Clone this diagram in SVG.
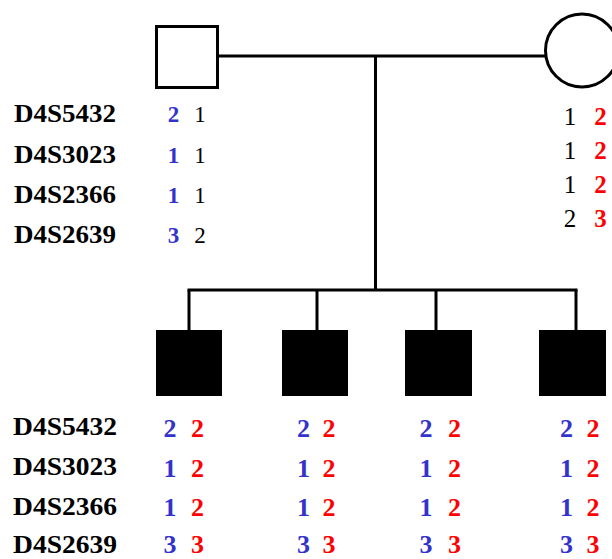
<svg xmlns="http://www.w3.org/2000/svg" width="612" height="559" viewBox="0 0 612 559">
<style>
.ln{stroke:#000;stroke-width:3;fill:none}
.lbl{font-family:"Liberation Serif","Times New Roman",serif;font-weight:bold;font-size:26px;fill:#000}
.a{font-family:"Liberation Serif","Times New Roman",serif;text-anchor:middle}
.b{fill:#3333cc;font-weight:bold}
.r{fill:#ff0000;font-weight:bold}
.k{fill:#000;font-weight:normal}
.f{font-size:23px}
.m{font-size:25px}
.c{font-size:26px}
</style>
<rect width="612" height="559" fill="#fff"/>
<g id="connectors" class="ln">
<line x1="219" y1="56" x2="545" y2="56"/>
<line x1="375.5" y1="56" x2="375.5" y2="290"/>
<line x1="187.5" y1="290" x2="577.5" y2="290"/>
<line x1="189" y1="290" x2="189" y2="330"/>
<line x1="317" y1="290" x2="317" y2="330"/>
<line x1="436" y1="290" x2="436" y2="330"/>
<line x1="576" y1="290" x2="576" y2="330"/>
</g>
<g id="father">
<rect class="ln" x="156.5" y="26.5" width="61" height="61"/>
<text class="a f b" x="173.5" y="122">2</text><text class="a f k" x="200" y="122">1</text>
<text class="a f b" x="173.5" y="163">1</text><text class="a f k" x="200" y="163">1</text>
<text class="a f b" x="173.5" y="203">1</text><text class="a f k" x="200" y="203">1</text>
<text class="a f b" x="173.5" y="243">3</text><text class="a f k" x="200" y="243">2</text>
</g>
<g id="mother">
<circle class="ln" cx="582" cy="50.5" r="36.5"/>
<text class="a m k" x="570" y="125">1</text><text class="a m r" x="600.5" y="125">2</text>
<text class="a m k" x="570" y="159">1</text><text class="a m r" x="600.5" y="159">2</text>
<text class="a m k" x="570" y="193">1</text><text class="a m r" x="600.5" y="193">2</text>
<text class="a m k" x="570" y="227">2</text><text class="a m r" x="600.5" y="227">3</text>
</g>
<g id="labels-top">
<text class="lbl" x="14" y="122" textLength="102" lengthAdjust="spacingAndGlyphs">D4S5432</text>
<text class="lbl" x="14" y="163" textLength="102" lengthAdjust="spacingAndGlyphs">D4S3023</text>
<text class="lbl" x="14" y="203" textLength="102" lengthAdjust="spacingAndGlyphs">D4S2366</text>
<text class="lbl" x="14" y="243" textLength="102" lengthAdjust="spacingAndGlyphs">D4S2639</text>
</g>
<g id="labels-bottom">
<text class="lbl" x="13" y="435" textLength="104" lengthAdjust="spacingAndGlyphs">D4S5432</text>
<text class="lbl" x="13" y="475" textLength="104" lengthAdjust="spacingAndGlyphs">D4S3023</text>
<text class="lbl" x="13" y="515" textLength="104" lengthAdjust="spacingAndGlyphs">D4S2366</text>
<text class="lbl" x="13" y="553" textLength="104" lengthAdjust="spacingAndGlyphs">D4S2639</text>
</g>
<g id="child1">
<rect x="156" y="330" width="66" height="66" fill="#000"/>
<text class="a c b" x="170" y="437">2</text><text class="a c r" x="197.5" y="437">2</text>
<text class="a c b" x="170" y="477">1</text><text class="a c r" x="197.5" y="477">2</text>
<text class="a c b" x="170" y="516">1</text><text class="a c r" x="197.5" y="516">2</text>
<text class="a c b" x="170" y="553">3</text><text class="a c r" x="197.5" y="553">3</text>
</g>
<g id="child2">
<rect x="282" y="330" width="66" height="66" fill="#000"/>
<text class="a c b" x="303.5" y="437">2</text><text class="a c r" x="329" y="437">2</text>
<text class="a c b" x="303.5" y="477">1</text><text class="a c r" x="329" y="477">2</text>
<text class="a c b" x="303.5" y="516">1</text><text class="a c r" x="329" y="516">2</text>
<text class="a c b" x="303.5" y="553">3</text><text class="a c r" x="329" y="553">3</text>
</g>
<g id="child3">
<rect x="405" y="330" width="67" height="66" fill="#000"/>
<text class="a c b" x="426" y="437">2</text><text class="a c r" x="454.5" y="437">2</text>
<text class="a c b" x="426" y="477">1</text><text class="a c r" x="454.5" y="477">2</text>
<text class="a c b" x="426" y="516">1</text><text class="a c r" x="454.5" y="516">2</text>
<text class="a c b" x="426" y="553">3</text><text class="a c r" x="454.5" y="553">3</text>
</g>
<g id="child4">
<rect x="539" y="330" width="67" height="66" fill="#000"/>
<text class="a c b" x="566.5" y="437">2</text><text class="a c r" x="593" y="437">2</text>
<text class="a c b" x="566.5" y="477">1</text><text class="a c r" x="593" y="477">2</text>
<text class="a c b" x="566.5" y="516">1</text><text class="a c r" x="593" y="516">2</text>
<text class="a c b" x="566.5" y="553">3</text><text class="a c r" x="593" y="553">3</text>
</g>
</svg>
